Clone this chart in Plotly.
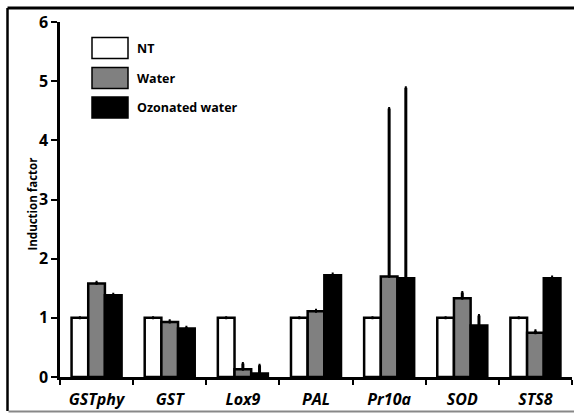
import plotly.graph_objects as go

genes = ["GSTphy", "GST", "Lox9", "PAL", "Pr10a", "SOD", "STS8"]
series_names = ["NT", "Water", "Ozonated water"]
nt_vals = [1, 1, 1, 1, 1, 1, 1]
water_vals = [1.58, 0.93, 0.13, 1.11, 1.70, 1.33, 0.75]
ozone_vals = [1.38, 0.82, 0.06, 1.72, 1.67, 0.87, 1.67]
nt_err = [0, 0, 0, 0, 0, 0, 0]
water_err = [0.02, 0.02, 0.10, 0.02, 2.84, 0.10, 0.03]
ozone_err = [0.02, 0.02, 0.14, 0.02, 3.22, 0.17, 0.02]
y_ticks = [0, 1, 2, 3, 4, 5, 6]

W, H = 574, 414
L, R, T, B = 60, 2, 22, 37
pw, ph = W - L - R, H - T - B
FONT = "Open Sans"

def px(x):
    return (x - L) / pw

def py(y):
    return (H - B - y) / ph

fills = ["white", "#808080", "black"]
vals = [nt_vals, water_vals, ozone_vals]
errs = [nt_err, water_err, ozone_err]

fig = go.Figure()
for name, v, e, c in zip(series_names, vals, errs, fills):
    fig.add_trace(go.Bar(
        x=genes, y=v, name=name,
        marker=dict(color=c, line=dict(color="black", width=2.5)),
        error_y=dict(type="data", array=e, arrayminus=[0] * len(e), symmetric=False,
                     color="black", thickness=3, width=1, visible=True),
        showlegend=False,
    ))

shapes = []
annotations = []
legend_y = [48, 78, 107.5]
for name, c, yc in zip(series_names, fills, legend_y):
    shapes.append(dict(type="rect", xref="paper", yref="paper",
                       x0=px(92), x1=px(128), y0=py(yc - 10.5), y1=py(yc + 10.5),
                       fillcolor=c, line=dict(color="black", width=1.5)))
    annotations.append(dict(xref="paper", yref="paper", x=px(135), y=py(yc),
                            text=f"<b>{name}</b>", showarrow=False, xanchor="left",
                            yanchor="middle", font=dict(size=12.5, color="black", family=FONT)))

# outer frame (open on the right)
shapes.append(dict(type="line", xref="paper", yref="paper", x0=px(7.5), x1=px(574),
                   y0=py(8), y1=py(8), line=dict(color="black", width=3)))
shapes.append(dict(type="line", xref="paper", yref="paper", x0=px(7.5), x1=px(7.5),
                   y0=py(8), y1=py(411), line=dict(color="black", width=2.5)))
shapes.append(dict(type="line", xref="paper", yref="paper", x0=px(8.5), x1=px(574),
                   y0=py(411.5), y1=py(411.5), line=dict(color="#888888", width=2)))

annotations.append(dict(xref="paper", yref="paper", x=px(22), y=py(204),
                        text="<b>Induction factor</b>", showarrow=False, textangle=-90,
                        font=dict(size=11.5, color="black", family=FONT)))

fig.update_layout(
    width=W, height=H,
    margin=dict(l=L, r=R, t=T, b=B),
    paper_bgcolor="white", plot_bgcolor="white",
    barmode="group", bargap=0.316, bargroupgap=0,
    font=dict(family=FONT, color="black"),
    shapes=shapes, annotations=annotations,
    xaxis=dict(type="category", tickson="boundaries", range=[-0.5, 6.5],
               showline=True, linecolor="black", linewidth=2.5,
               ticks="outside", ticklen=5, tickwidth=2, tickcolor="black",
               ticklabelstandoff=6,
               tickfont=dict(size=16, family=FONT, color="black"),
               tickvals=genes, ticktext=[f"<b><i>{g}</i></b>" for g in genes],
               showgrid=False, zeroline=False, fixedrange=True),
    yaxis=dict(range=[0, 6], tickvals=y_ticks, ticktext=[f"<b>{t}</b>" for t in y_ticks],
               showline=True, linecolor="black", linewidth=2.5,
               ticks="outside", ticklen=6, tickwidth=2, tickcolor="black",
               tickfont=dict(size=16, family=FONT, color="black"),
               showgrid=False, zeroline=False, fixedrange=True),
)

fig.write_html("out.html", config={"displayModeBar": False},
               post_script="document.body.style.margin='0';document.body.style.overflow='hidden';")
